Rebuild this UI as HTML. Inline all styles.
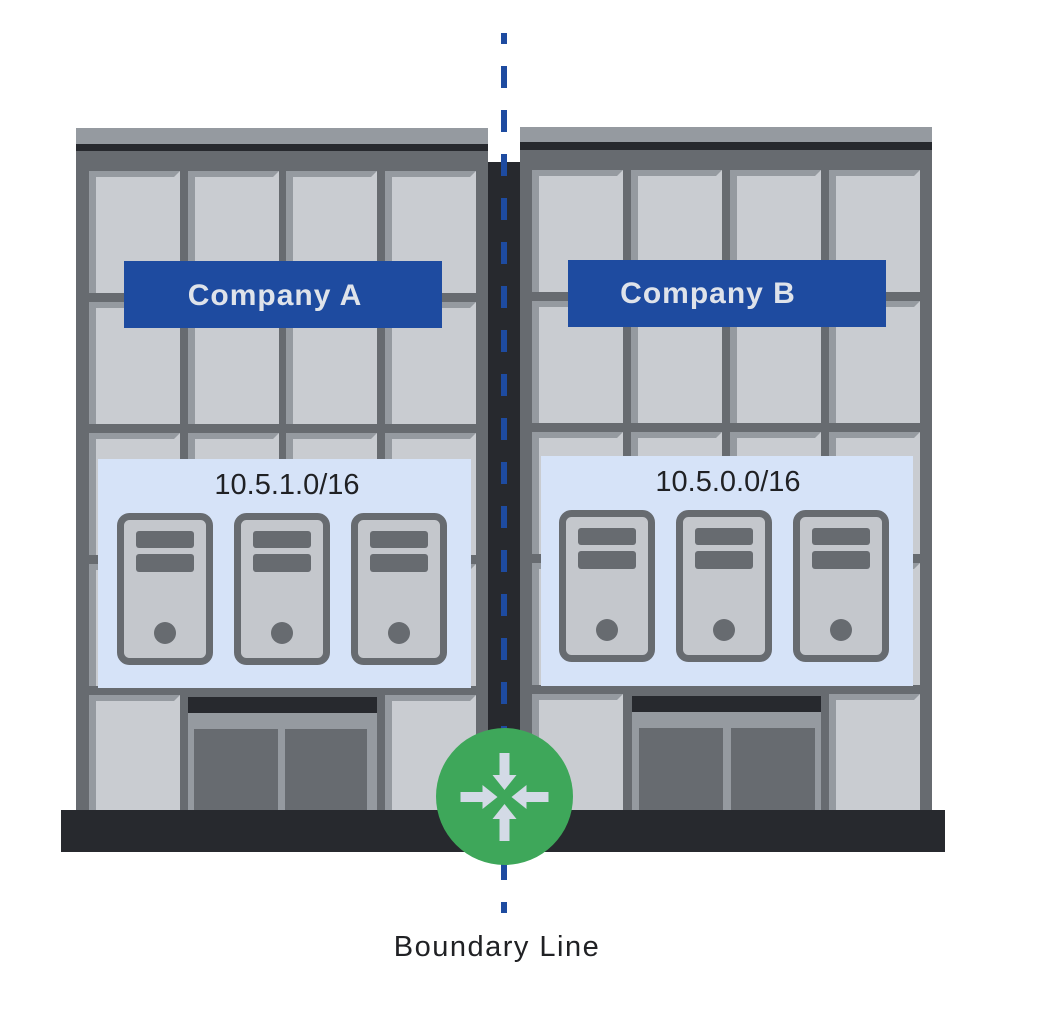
<!DOCTYPE html>
<html><head><meta charset="utf-8"><style>
html,body{margin:0;padding:0;background:#fff;}
svg{display:block;}
text{font-family:"Liberation Sans",sans-serif;}
</style></head><body>
<svg width="1048" height="1032" viewBox="0 0 1048 1032" xmlns="http://www.w3.org/2000/svg">
<defs>
<g id="win">
<rect x="0" y="0" width="91" height="122" fill="#959aa0"/>
<polygon points="7,6 85,6 91,0 91,122 7,122" fill="#c9ccd1"/>
</g>
<g id="srv">
<rect x="3.5" y="3.5" width="89" height="145" rx="9" fill="#c4c7cc" stroke="#676b70" stroke-width="7"/>
<rect x="19" y="18" width="58" height="17" rx="3" fill="#676b70"/>
<rect x="19" y="41" width="58" height="18" rx="3" fill="#676b70"/>
<circle cx="48" cy="120" r="11" fill="#676b70"/>
</g>
</defs>

<!-- left building -->
<rect x="76" y="128" width="412" height="16" fill="#959aa0"/>
<rect x="76" y="144" width="412" height="7" fill="#27292e"/>
<rect x="76" y="151" width="412" height="660" fill="#676b70"/>
<g>
<use href="#win" x="89" y="171"/><use href="#win" x="188" y="171"/><use href="#win" x="286" y="171"/><use href="#win" x="385" y="171"/>
<use href="#win" x="89" y="302"/><use href="#win" x="188" y="302"/><use href="#win" x="286" y="302"/><use href="#win" x="385" y="302"/>
<use href="#win" x="89" y="433"/><use href="#win" x="188" y="433"/><use href="#win" x="286" y="433"/><use href="#win" x="385" y="433"/>
<use href="#win" x="89" y="564"/><use href="#win" x="188" y="564"/><use href="#win" x="286" y="564"/><use href="#win" x="385" y="564"/>
<use href="#win" x="89" y="695"/><use href="#win" x="385" y="695"/>
</g>
<rect x="180" y="690" width="205" height="121" fill="#676b70"/>
<rect x="188" y="697" width="189" height="16" fill="#27292e"/>
<rect x="188" y="713" width="189" height="98" fill="#959aa0"/>
<rect x="194" y="729" width="84" height="82" fill="#676b70"/>
<rect x="285" y="729" width="82" height="82" fill="#676b70"/>

<!-- right building -->
<rect x="520" y="127" width="412" height="15" fill="#959aa0"/>
<rect x="520" y="142" width="412" height="8" fill="#27292e"/>
<rect x="520" y="150" width="412" height="661" fill="#676b70"/>
<g>
<use href="#win" x="532" y="170"/><use href="#win" x="631" y="170"/><use href="#win" x="730" y="170"/><use href="#win" x="829" y="170"/>
<use href="#win" x="532" y="301"/><use href="#win" x="631" y="301"/><use href="#win" x="730" y="301"/><use href="#win" x="829" y="301"/>
<use href="#win" x="532" y="432"/><use href="#win" x="631" y="432"/><use href="#win" x="730" y="432"/><use href="#win" x="829" y="432"/>
<use href="#win" x="532" y="563"/><use href="#win" x="631" y="563"/><use href="#win" x="730" y="563"/><use href="#win" x="829" y="563"/>
<use href="#win" x="532" y="694"/><use href="#win" x="829" y="694"/>
</g>
<rect x="624" y="688" width="205" height="123" fill="#676b70"/>
<rect x="632" y="696" width="189" height="16" fill="#27292e"/>
<rect x="632" y="712" width="189" height="99" fill="#959aa0"/>
<rect x="639" y="728" width="84" height="83" fill="#676b70"/>
<rect x="731" y="728" width="84" height="83" fill="#676b70"/>

<!-- gap column -->
<rect x="488" y="162" width="32" height="649" fill="#27292e"/>

<!-- banners -->
<rect x="124" y="261" width="318" height="67" fill="#1e4ba0"/>
<text x="275" y="305" font-size="30" font-weight="bold" letter-spacing="1" fill="#dfe3ea" text-anchor="middle">Company A</text>
<rect x="568" y="260" width="318" height="67" fill="#1e4ba0"/>
<text x="708" y="303" font-size="30" font-weight="bold" letter-spacing="1" fill="#dfe3ea" text-anchor="middle">Company B</text>

<!-- panels -->
<rect x="98" y="459" width="373" height="229" fill="#d6e3f8"/>
<text x="287" y="494" font-size="29" fill="#202124" text-anchor="middle">10.5.1.0/16</text>
<use href="#srv" x="117" y="513"/><use href="#srv" x="234" y="513"/><use href="#srv" x="351" y="513"/>
<rect x="541" y="456" width="372" height="230" fill="#d6e3f8"/>
<text x="728" y="491" font-size="29" fill="#202124" text-anchor="middle">10.5.0.0/16</text>
<use href="#srv" x="559" y="510"/><use href="#srv" x="676" y="510"/><use href="#srv" x="793" y="510"/>

<!-- ground -->
<rect x="61" y="810" width="884" height="42" fill="#27292e"/>

<!-- dashed line -->
<line x1="504" y1="33" x2="504" y2="913" stroke="#1e4ba0" stroke-width="6" stroke-dasharray="22 22" stroke-dashoffset="11"/>

<!-- router -->
<circle cx="504.5" cy="796.5" r="68.5" fill="#3ea75a"/>
<g fill="#d3dae6" transform="translate(504.5,797)">
<g id="arr"><polygon points="-5,-44 5,-44 5,-22 12,-22 0,-7 -12,-22 -5,-22"/></g>
<use href="#arr" transform="rotate(90)"/>
<use href="#arr" transform="rotate(180)"/>
<use href="#arr" transform="rotate(270)"/>
</g>

<text x="497" y="956" font-size="29" letter-spacing="1.5" fill="#202124" text-anchor="middle">Boundary Line</text>
</svg>
</body></html>
